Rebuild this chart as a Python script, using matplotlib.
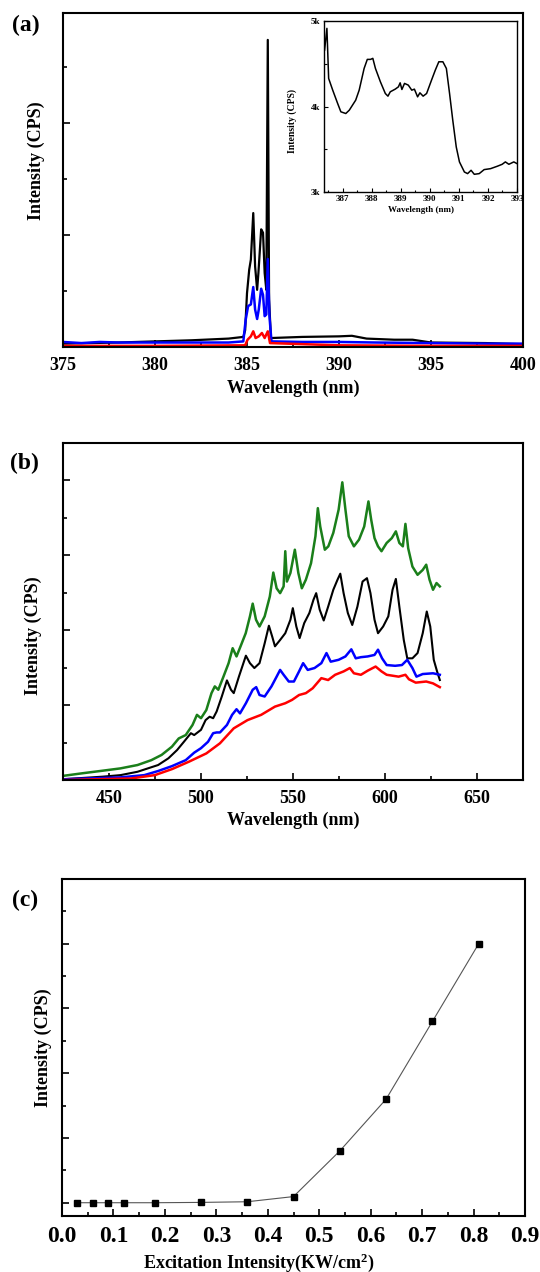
import matplotlib
matplotlib.use("Agg")
import matplotlib.pyplot as plt
from matplotlib.ticker import MultipleLocator, NullFormatter, FixedLocator

plt.rcParams['font.family'] = ['Liberation Serif', 'DejaVu Serif']
plt.rcParams['font.weight'] = 'bold'
plt.rcParams['mathtext.fontset'] = 'custom'
plt.rcParams['mathtext.rm'] = 'Liberation Serif:bold'
plt.rcParams['mathtext.it'] = 'Liberation Serif:bold'
plt.rcParams['mathtext.bf'] = 'Liberation Serif:bold'

# ---- (a) spectra around 385 nm (arbitrary units) ----
a_black_x = [375, 378, 380, 382, 384, 384.8, 384.9, 385.0, 385.12, 385.21, 385.34, 385.44,
             385.55, 385.62, 385.77, 385.87, 385.96, 386.05, 386.13, 386.2, 386.3,
             388, 390, 390.7, 391.5, 393, 394, 395, 398, 400]
a_black_y = [0.06, 0.08, 0.10, 0.12, 0.15, 0.18, 0.30, 0.96, 1.38, 1.56, 2.39, 1.44,
             1.02, 1.32, 2.10, 2.04, 1.32, 1.02, 5.48, 0.85, 0.16,
             0.18, 0.19, 0.20, 0.15, 0.13, 0.13, 0.08, 0.07, 0.05]
a_blue_x = [375, 376, 377, 378, 380, 382, 384, 384.8, 384.93, 385.06, 385.21, 385.34, 385.44,
            385.55, 385.64, 385.77, 385.87, 385.96, 386.05, 386.13, 386.22, 386.33,
            388, 390, 392, 395, 398, 400]
a_blue_y = [0.09, 0.07, 0.09, 0.08, 0.08, 0.08, 0.08, 0.10, 0.49, 0.73, 0.76, 1.07, 0.67,
            0.50, 0.67, 1.04, 0.93, 0.55, 0.58, 1.57, 0.55, 0.10,
            0.09, 0.09, 0.08, 0.07, 0.06, 0.06]
a_red_x = [375, 380, 384.9, 385.03, 385.21, 385.34, 385.47, 385.64, 385.81, 385.96, 386.13,
           386.25, 390, 395, 400]
a_red_y = [0.02, 0.02, 0.03, 0.13, 0.19, 0.28, 0.16, 0.19, 0.25, 0.16, 0.28,
           0.07, 0.03, 0.02, 0.02]

# inset (CPS)
ins_x = [386.38, 386.46, 386.52, 386.66, 386.83, 386.94, 387.11, 387.23, 387.45, 387.57,
         387.74, 387.85, 387.96, 388.04, 388.13, 388.30, 388.47, 388.56, 388.64, 388.81,
         388.92, 388.98, 389.04, 389.13, 389.26, 389.38, 389.47, 389.58, 389.66, 389.77,
         389.89, 390.06, 390.19, 390.31, 390.45, 390.57, 390.68, 390.79, 390.91, 391.02,
         391.19, 391.30, 391.42, 391.53, 391.70, 391.87, 392.09, 392.32, 392.49, 392.60,
         392.72, 392.89, 393.0]
ins_y = [4660, 4914, 4328, 4191, 4035, 3938, 3918, 3957, 4074, 4191,
         4445, 4551, 4551, 4563, 4445, 4289, 4152, 4121, 4172, 4203,
         4230, 4277, 4199, 4270, 4250, 4191, 4203, 4113, 4160, 4121,
         4152, 4309, 4426, 4523, 4523, 4445, 4152, 3840, 3527, 3352,
         3234, 3215, 3254, 3207, 3215, 3262, 3273, 3301, 3324, 3352,
         3324, 3352, 3332]

# ---- (b) broad emission spectra ----
b_green_x = [425, 435.6, 446.8, 456.2, 465.5, 473, 478.6, 484.2, 487.9, 491.7, 495.4, 497.8,
             500, 502.9, 505.7, 507.5, 509.4, 512.2, 515, 517.2, 519.3, 521.5, 524.3, 526.6,
             528.1, 529.9, 531.8, 534.6, 537.4, 539.3, 541.1, 543, 544.9, 545.8, 546.7, 548.6,
             551, 552.9, 554.8, 557, 559.8, 562.2, 563.5, 564.8, 567.3, 569.2, 571.9, 574.8,
             576.8, 578.5, 580.3, 583.1, 585.9, 588.7, 591, 592.5, 594.3, 596.2, 598.1, 600.9,
             603.7, 605.9, 607.8, 609.7, 611.1, 612.6, 614.9, 617.7, 620.5, 622.4, 624.2, 626.1,
             628, 629.8]
b_green_y = [0.11, 0.18, 0.25, 0.31, 0.40, 0.53, 0.67, 0.89, 1.11, 1.20, 1.47, 1.74,
             1.65, 1.87, 2.32, 2.50, 2.41, 2.76, 3.12, 3.52, 3.30, 3.57, 3.92, 4.37,
             4.71, 4.28, 4.10, 4.37, 4.90, 5.54, 5.12, 4.99, 5.17, 6.11, 5.30, 5.53,
             6.15, 5.53, 5.12, 5.35, 5.79, 6.51, 7.26, 6.77, 6.15, 6.24, 6.60, 7.22,
             7.95, 7.22, 6.51, 6.24, 6.42, 6.77, 7.44, 6.95, 6.46, 6.24, 6.11, 6.33,
             6.46, 6.64, 6.33, 6.24, 6.84, 6.19, 5.70, 5.48, 5.61, 5.75, 5.35, 5.08,
             5.26, 5.17]
b_black_x = [425, 446.8, 456.2, 465.5, 471.1, 476.7, 482.3, 487, 490.7, 494.5, 496.3, 500,
             502.5, 504.7, 506.6, 508.5, 511.3, 514.1, 516.3, 517.8, 520.6, 524.4, 526.6, 529,
             531.8, 534.6, 536.9, 538.7, 540.2, 543, 545.8, 548.6, 549.9, 551.8, 553.6, 556.1,
             558.9, 561.1, 562.6, 564.5, 566.7, 569.1, 571.9, 574.2, 575.7, 577.5, 579.8, 582.2,
             585, 587.8, 590.2, 592.1, 594.3, 596.2, 599, 601.8, 604.1, 605.9, 607.8, 610.2,
             612.1, 614.9, 617.7, 620.5, 622.7, 624.6, 626.5, 628.3, 629.8]
b_black_y = [0.02, 0.09, 0.13, 0.22, 0.31, 0.40, 0.58, 0.80, 1.02, 1.25, 1.20, 1.34,
             1.60, 1.69, 1.65, 1.83, 2.23, 2.66, 2.41, 2.32, 2.76, 3.32, 3.12, 2.99,
             3.12, 3.65, 4.12, 3.83, 3.57, 3.74, 3.92, 4.28, 4.59, 4.10, 3.79, 4.19,
             4.46, 4.81, 4.99, 4.55, 4.26, 4.63, 5.08, 5.35, 5.51, 4.99, 4.46, 4.14,
             4.63, 5.30, 5.39, 4.99, 4.28, 3.92, 4.10, 4.37, 5.08, 5.37, 4.63, 3.74,
             3.25, 3.25, 3.39, 3.92, 4.50, 4.10, 3.21, 2.90, 2.67]
b_blue_x = [425, 456.2, 469.2, 476.7, 484.2, 491.7, 496.3, 500, 503.8, 506.6, 508.5, 510.3,
            514.1, 516.9, 519.3, 521.2, 524.4, 528.1, 530, 531.8, 534.6, 538.3, 541.1, 543,
            544.9, 547.7, 550.5, 553.3, 555.5, 558, 561.7, 565.4, 568.2, 570.5, 574.8, 578.5,
            581.7, 584.1, 586.9, 590.6, 594.3, 596.2, 598.4, 600.9, 605.5, 609.2, 612.1, 614.9,
            617.1, 620.5, 626.1, 629.8]
b_blue_y = [0.02, 0.07, 0.13, 0.24, 0.37, 0.53, 0.73, 0.85, 1.02, 1.25, 1.27, 1.27,
            1.47, 1.74, 1.89, 1.78, 2.05, 2.41, 2.48, 2.27, 2.23, 2.50, 2.76, 2.94,
            2.81, 2.63, 2.63, 2.90, 3.12, 2.94, 2.99, 3.12, 3.39, 3.16, 3.21, 3.30,
            3.49, 3.25, 3.28, 3.30, 3.34, 3.48, 3.25, 3.07, 3.05, 3.07, 3.21, 2.99,
            2.76, 2.83, 2.85, 2.81]
b_red_x = [425, 461.8, 474.9, 484.2, 493.5, 502.9, 510.3, 517.8, 525.3, 532.7, 540.2, 545.8,
           549.5, 553.3, 557, 560.7, 565.4, 569.1, 572.9, 577.5, 580.9, 583.1, 586.9, 590.6,
           594.9, 598.1, 600.9, 607.4, 611.1, 613, 616.7, 622.4, 626.1, 629.8]
b_red_y = [0.0, 0.04, 0.13, 0.29, 0.49, 0.71, 0.98, 1.38, 1.60, 1.74, 1.96, 2.05,
           2.14, 2.27, 2.32, 2.45, 2.72, 2.67, 2.81, 2.90, 2.99, 2.85, 2.81, 2.92,
           3.03, 2.90, 2.81, 2.76, 2.81, 2.69, 2.60, 2.63, 2.58, 2.48]

# ---- (c) intensity vs excitation ----
exc = [0.03, 0.06, 0.09, 0.12, 0.18, 0.27, 0.36, 0.45, 0.54, 0.63, 0.72, 0.81]
inten = [0.0, 0.0, 0.0, 0.0, 0.0, 0.01, 0.03, 0.19, 1.6, 3.2, 5.6, 8.0]

W, H = 540, 1272
fig = plt.figure(figsize=(W / 100, H / 100), dpi=100)


def box(l, t, r, b):
    return [l / W, 1 - b / H, (r - l) / W, (b - t) / H]


def style(ax, fs=13, lw=1.5):
    for s in ax.spines.values():
        s.set_linewidth(lw)
    ax.tick_params(which='both', direction='in', labelsize=fs, width=1.2, pad=7)
    ax.tick_params(which='major', length=5)
    ax.tick_params(which='minor', length=3)
    ax.yaxis.set_major_formatter(NullFormatter())
    for lab in ax.get_xticklabels():
        lab.set_fontweight('bold')


# panel (a)
ax1 = fig.add_axes(box(63, 13, 523, 347))
ax1.plot(a_black_x, a_black_y, color='black', lw=1.6)
ax1.plot(a_blue_x, a_blue_y, color='blue', lw=1.8)
ax1.plot(a_red_x, a_red_y, color='red', lw=1.8)
ax1.set_xlim(375, 400)
ax1.set_ylim(0, 5.96)
ax1.xaxis.set_major_locator(MultipleLocator(5))
ax1.xaxis.set_minor_locator(MultipleLocator(2.5))
ax1.yaxis.set_major_locator(FixedLocator([2, 4]))
ax1.yaxis.set_minor_locator(FixedLocator([1, 3, 5]))
style(ax1)
ax1.set_xlabel('Wavelength (nm)', fontsize=13, fontweight='bold', va='center')
ax1.xaxis.set_label_coords(0.5, -0.123)
ax1.set_ylabel('Intensity (CPS)', fontsize=13, fontweight='bold', va='center')
ax1.yaxis.set_label_coords(-0.059, 0.557)

# inset
axi = fig.add_axes(box(324, 21, 517, 192))
axi.plot(ins_x, ins_y, color='black', lw=1.1)
axi.set_xlim(386.36, 393.0)
axi.set_ylim(3000, 5000)
axi.xaxis.set_major_locator(MultipleLocator(1))
axi.xaxis.set_minor_locator(MultipleLocator(0.5))
axi.yaxis.set_major_locator(MultipleLocator(1000))
axi.yaxis.set_minor_locator(MultipleLocator(500))
axi.set_yticks([3000, 4000, 5000], ['3k', '4k', '5k'])
for s in axi.spines.values():
    s.set_linewidth(1.0)
axi.tick_params(which='both', direction='in', labelsize=6.5, width=0.8, pad=2.5)
axi.tick_params(which='major', length=3)
axi.tick_params(which='minor', length=1.8)
axi.set_xlabel('Wavelength (nm)', fontsize=6.5, fontweight='bold', labelpad=2)
axi.set_ylabel('Intensity (CPS)', fontsize=7, fontweight='bold', va='center')
axi.yaxis.set_label_coords(-0.165, 0.416)

# panel (b)
ax2 = fig.add_axes(box(63, 443, 523, 780))
ax2.plot(b_green_x, b_green_y, color='#1a7f1a', lw=1.8)
ax2.plot(b_black_x, b_black_y, color='black', lw=1.5)
ax2.plot(b_blue_x, b_blue_y, color='blue', lw=1.8)
ax2.plot(b_red_x, b_red_y, color='red', lw=1.8)
ax2.set_xlim(425, 675)
ax2.set_ylim(0, 9)
ax2.xaxis.set_major_locator(MultipleLocator(50))
ax2.xaxis.set_minor_locator(MultipleLocator(25))
ax2.yaxis.set_major_locator(FixedLocator([2, 4, 6, 8]))
ax2.yaxis.set_minor_locator(FixedLocator([1, 3, 5, 7]))
style(ax2)
ax2.set_xlabel('Wavelength (nm)', fontsize=13, fontweight='bold', va='center')
ax2.xaxis.set_label_coords(0.5, -0.121)
ax2.set_ylabel('Intensity (CPS)', fontsize=13, fontweight='bold', va='center')
ax2.yaxis.set_label_coords(-0.065, 0.428)

# panel (c)
ax3 = fig.add_axes(box(62, 879, 525, 1216))
ax3.plot(exc, inten, color='#555555', lw=0.8, marker='s', ms=5,
         mfc='black', mec='black')
ax3.set_xlim(0, 0.9)
ax3.set_ylim(-0.41, 10.0)
ax3.xaxis.set_major_locator(MultipleLocator(0.1))
ax3.xaxis.set_minor_locator(MultipleLocator(0.05))
ax3.yaxis.set_major_locator(FixedLocator([0, 2, 4, 6, 8]))
ax3.yaxis.set_minor_locator(FixedLocator([1, 3, 5, 7, 9]))
style(ax3, fs=17)
ax3.set_xlabel('Excitation Intensity(KW/cm$^2$)', fontsize=13, fontweight='bold', va='center')
ax3.xaxis.set_label_coords(0.425, -0.139)
ax3.set_ylabel('Intensity (CPS)', fontsize=13, fontweight='bold', va='center')
ax3.yaxis.set_label_coords(-0.041, 0.5)

for lab, (px, py) in zip(['(a)', '(b)', '(c)'], [(26, 25), (24, 463), (25, 900)]):
    fig.text(px / W, 1 - py / H, lab, fontsize=17, fontweight='bold',
             ha='center', va='center')

fig.savefig('out.png', dpi=100)
